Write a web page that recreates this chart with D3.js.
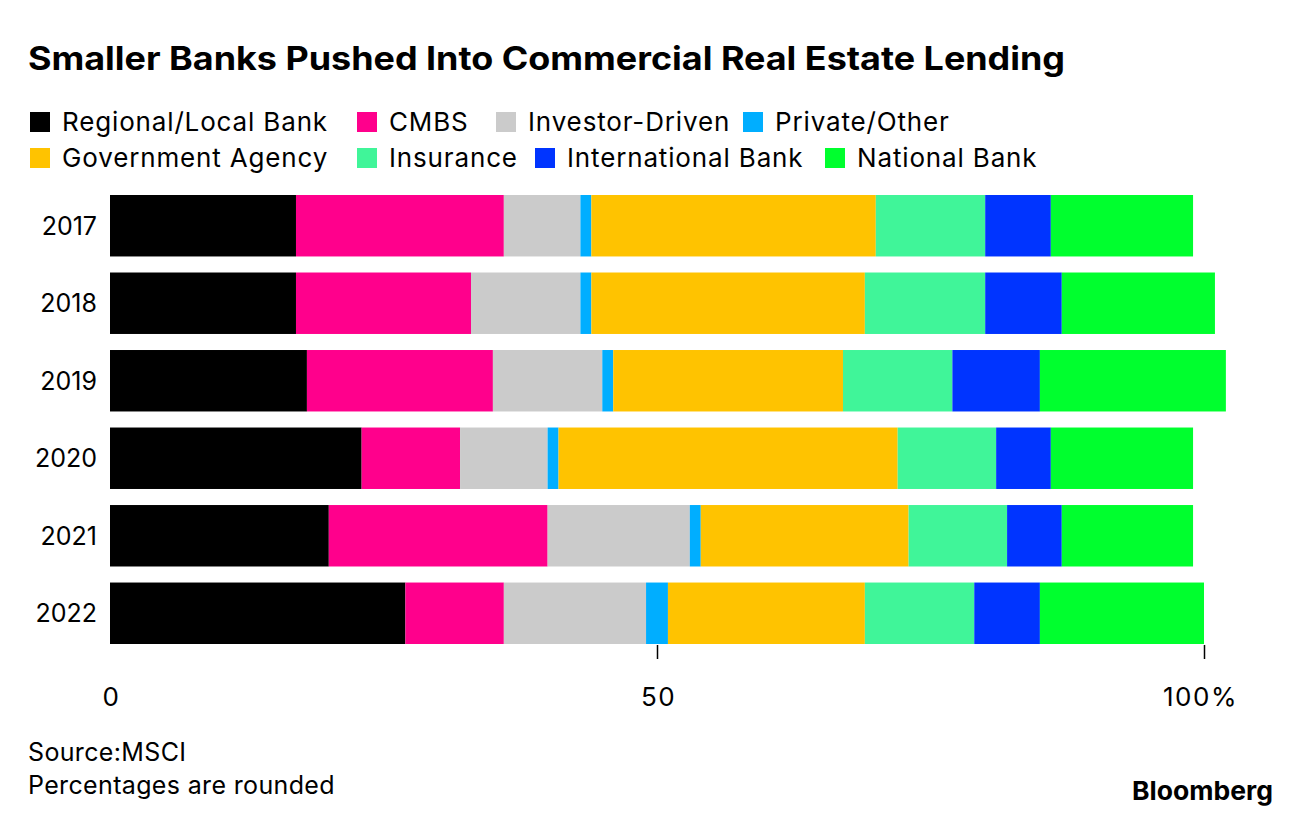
<!DOCTYPE html>
<html>
<head>
<meta charset="utf-8">
<script src="https://cdn.jsdelivr.net/npm/d3@7"></script>
<style>
  body { margin: 0; background: #fff; }
  svg text { font-family: Inter, "Liberation Sans", Arial, sans-serif; fill: #000; }
</style>
</head>
<body>
<div id="output"></div>
<script>
(function () {

"use strict";

var years = [ "2017", "2018", "2019", "2020", "2021", "2022" ]
var lenders = [ "Regional/Local Bank", "CMBS", "Investor-Driven", "Private/Other",
                "Government Agency", "Insurance", "International Bank", "National Bank" ]
var colors = [ "#000000", "#ff008c", "#cbcbcb", "#00aeff", "#ffc300", "#40f599", "#0034ff", "#00ff2e" ]

// share of lending per year (percent, rounded)
var regional = [ 17, 17, 18, 23, 20, 27 ]
var cmbs     = [ 19, 16, 17,  9, 20,  9 ]
var investor = [  7, 10, 10,  8, 13, 13 ]
var privateO = [  1,  1,  1,  1,  1,  2 ]
var agency   = [ 26, 25, 21, 31, 19, 18 ]
var insurance = [ 10, 11, 10,  9,  9, 10 ]
var intl     = [  6,  7,  8,  5,  5,  6 ]
var national = [ 13, 14, 17, 13, 12, 15 ]

var xTicks = [ 0, 50, 100 ]
var series = [ regional, cmbs, investor, privateO, agency, insurance, intl, national ]

var width = 1296, height = 824

var svg = d3.select("#output").append("svg").attr("width", width).attr("height", height)

// Title (the original face is wider than anything installed, so stretch it)
svg.append("text")
  .attr("x", 28).attr("y", 70)
  .attr("textLength", 1037).attr("lengthAdjust", "spacingAndGlyphs")
  .style("font-size", "32px").style("font-weight", "bold")
  .text("Smaller Banks Pushed Into Commercial Real Estate Lending")

// Legend, two rows
var legendX = [ 30, 357, 496, 743, 30, 357, 535, 825 ]
var legend = svg.selectAll("g.legend").data(lenders).enter()
  .append("g")
  .attr("class", "legend")
  .attr("transform", function (d, i) { return "translate(" + legendX[i] + "," + (i < 4 ? 122 : 158) + ")" })
legend.append("rect")
  .attr("x", 0).attr("y", -10).attr("width", 20).attr("height", 20)
  .attr("fill", function (d, i) { return colors[i] })
legend.append("text")
  .attr("x", 32).attr("dy", "0.36em")
  .style("font-size", "26px").style("letter-spacing", "0.85px")
  .text(function (d) { return d })

// Scales
var x = d3.scaleLinear().domain([0, 100]).range([110, 1204])
var y = d3.scaleBand().domain(years).range([195, 644]).paddingInner(0.207).paddingOuter(0)

// stack rows
var rows = years.map(function (yr, i) {
  var row = { year: yr }
  lenders.forEach(function (l, j) { row[l] = series[j][i] })
  return row
})
var stacked = d3.stack().keys(lenders)(rows)

svg.append("g").selectAll("g").data(stacked).enter()
  .append("g")
  .attr("fill", function (d, i) { return colors[i] })
  .selectAll("rect").data(function (d) { return d }).enter()
  .append("rect")
  .attr("x", function (d) { return x(d[0]) })
  .attr("y", function (d) { return y(d.data.year) })
  .attr("width", function (d) { return x(d[1]) - x(d[0]) })
  .attr("height", y.bandwidth())

// Year labels
svg.append("g").selectAll("text").data(years).enter()
  .append("text")
  .attr("x", 97)
  .attr("y", function (d) { return y(d) + y.bandwidth() / 2 })
  .attr("dy", "0.36em")
  .attr("text-anchor", "end")
  .style("font-size", "25px")
  .text(function (d) { return d })

// x axis: ticks only
var axis = svg.append("g")
  .attr("transform", "translate(0," + 645 + ")")
  .call(d3.axisBottom(x).tickValues(xTicks).tickSize(14)
    .tickFormat(function (d) { return d === 100 ? "100%" : d }))
axis.select(".domain").remove()
axis.selectAll(".tick line").attr("stroke", "#000").attr("stroke-width", 1.5)
  .filter(function (d) { return d === 0 }).remove()
axis.selectAll(".tick text")
  .attr("y", 52).attr("dy", "0.36em")
  .attr("dx", function (d) { return d === 100 ? -4 : 1 })
  .style("font-size", "26px").style("letter-spacing", "1.5px")
  .style("font-family", "Inter, Liberation Sans, Arial, sans-serif")
  .attr("fill", "#000")

// Footer
svg.append("text").attr("x", 28).attr("y", 752).attr("dy", "0.36em")
  .style("font-size", "25px").style("letter-spacing", "0.35px").text("Source:MSCI")
svg.append("text").attr("x", 28).attr("y", 785).attr("dy", "0.36em")
  .style("font-size", "25px").style("letter-spacing", "0.35px").text("Percentages are rounded")
svg.append("text").attr("x", 1273).attr("y", 800)
  .attr("text-anchor", "end")
  .attr("textLength", 141).attr("lengthAdjust", "spacingAndGlyphs")
  .style("font-size", "26px").style("font-weight", "bold")
  .text("Bloomberg")

}())
</script>
</body>
</html>
